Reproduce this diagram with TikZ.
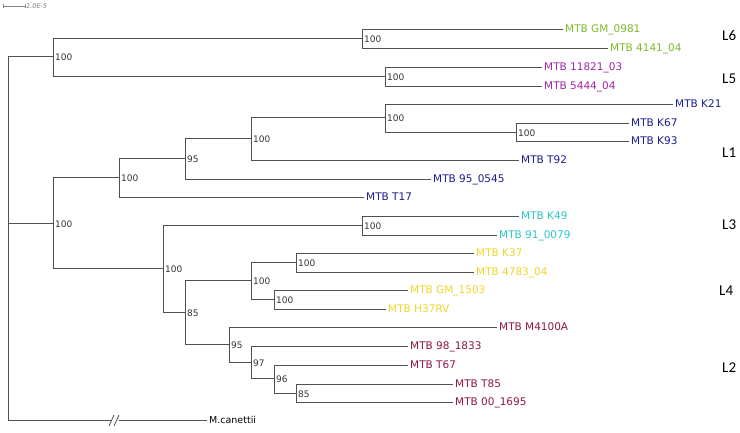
\documentclass[tikz,border=0pt]{standalone}
\usepackage{fontspec}
\setmainfont{DejaVu Sans}
\newfontfamily\linfont{Carlito}
\usepackage{xcolor}
\usepackage{tikz}
\usetikzlibrary{positioning, calc}

\definecolor{treegray}{HTML}{505050}
\definecolor{linsix}{HTML}{7CBB2B}
\definecolor{linfive}{HTML}{A524A8}
\definecolor{linone}{HTML}{1C1C8E}
\definecolor{linthree}{HTML}{2EC4C4}
\definecolor{linfour}{HTML}{F0D52C}
\definecolor{lintwo}{HTML}{8E1546}

\begin{document}
\begin{tikzpicture}[
    x=1pt, y=-1pt,
    branch/.style={draw=treegray, line width=1pt},
    leaf/.style={anchor=west, inner sep=2pt, font=\fontsize{10.5}{12}\selectfont, text height=1.5ex, text depth=0.3ex},
    boot/.style={anchor=west, inner sep=1pt, font=\fontsize{9}{10}\selectfont, text=black!80},
    lineage/.style={anchor=west, inner sep=0pt, font=\linfont\fontsize{15}{16}\selectfont}
]
    \useasboundingbox (0,0) rectangle (740,432);

    % Scale bar
    \coordinate (sbl) at (3,6);
    \coordinate (sbr) at (25,6);
    \draw[treegray!70, line width=0.7pt] (sbl) -- (sbr);
    \draw[treegray!70, line width=0.7pt] ($(sbl)+(0,-2)$) -- ($(sbl)+(0,2)$) ($(sbr)+(0,-2)$) -- ($(sbr)+(0,2)$);
    \node[anchor=west, inner sep=1pt, font=\itshape\fontsize{6.5}{7}\selectfont, text=gray] (sblabel) at (sbr) {1.0E-5};

    % Internal nodes
    \coordinate (root) at (8, 223);
    \coordinate (nup)  at (53, 56);
    \coordinate (nL6)  at (362, 38);
    \coordinate (nL5)  at (385, 76);
    \coordinate (nA)   at (53, 223);
    \coordinate (nL1)  at (119, 177);
    \coordinate (nC)   at (185, 158);
    \coordinate (nD)   at (251, 138);
    \coordinate (nK)   at (385, 117);
    \coordinate (nKK)  at (516, 132);
    \coordinate (nB)   at (163, 268);
    \coordinate (nL3)  at (362, 225);
    \coordinate (nE)   at (185, 312);
    \coordinate (nL4)  at (251, 280);
    \coordinate (nF)   at (296, 262);
    \coordinate (nG)   at (274, 299);
    \coordinate (nL2)  at (229, 344);
    \coordinate (nH)   at (251, 362);
    \coordinate (nI)   at (274, 378);
    \coordinate (nJ)   at (296, 393);

    % Leaves
    \node[leaf, text=linsix]   (gm0981)  at (563, 29)  {MTB GM\_0981};
    \node[leaf, text=linsix]   (m4141)   at (608, 48)  {MTB 4141\_04};
    \node[leaf, text=linfive]  (m11821)  at (542, 67)  {MTB 11821\_03};
    \node[leaf, text=linfive]  (m5444)   at (542, 86)  {MTB 5444\_04};
    \node[leaf, text=linone]   (k21)     at (673, 104) {MTB K21};
    \node[leaf, text=linone]   (k67)     at (629, 123) {MTB K67};
    \node[leaf, text=linone]   (k93)     at (629, 141) {MTB K93};
    \node[leaf, text=linone]   (t92)     at (519, 160) {MTB T92};
    \node[leaf, text=linone]   (m950545) at (431, 179) {MTB 95\_0545};
    \node[leaf, text=linone]   (t17)     at (364, 197) {MTB T17};
    \node[leaf, text=linthree] (k49)     at (519, 216) {MTB K49};
    \node[leaf, text=linthree] (m910079) at (497, 235) {MTB 91\_0079};
    \node[leaf, text=linfour]  (k37)     at (474, 253) {MTB K37};
    \node[leaf, text=linfour]  (m4783)   at (474, 272) {MTB 4783\_04};
    \node[leaf, text=linfour]  (gm1503)  at (408, 290) {MTB GM\_1503};
    \node[leaf, text=linfour]  (h37rv)   at (386, 309) {MTB H37RV};
    \node[leaf, text=lintwo]   (m4100a)  at (497, 327) {MTB M4100A};
    \node[leaf, text=lintwo]   (m981833) at (408, 346) {MTB 98\_1833};
    \node[leaf, text=lintwo]   (t67)     at (408, 365) {MTB T67};
    \node[leaf, text=lintwo]   (t85)     at (453, 384) {MTB T85};
    \node[leaf, text=lintwo]   (m001695) at (453, 402) {MTB 00\_1695};
    \node[leaf, font=\fontsize{9.5}{11}\selectfont] (canettii) at (207, 420) {M.canettii};

    % Branches
    \draw[branch] (root) |- (nup);
    \draw[branch] (root) |- (nA);
    \draw[branch] (nup) |- (nL6);
    \draw[branch] (nup) |- (nL5);
    \draw[branch] (nL6) |- (gm0981.west);
    \draw[branch] (nL6) |- (m4141.west);
    \draw[branch] (nL5) |- (m11821.west);
    \draw[branch] (nL5) |- (m5444.west);
    \draw[branch] (nA) |- (nL1);
    \draw[branch] (nA) |- (nB);
    \draw[branch] (nL1) |- (nC);
    \draw[branch] (nL1) |- (t17.west);
    \draw[branch] (nC) |- (nD);
    \draw[branch] (nC) |- (m950545.west);
    \draw[branch] (nD) |- (nK);
    \draw[branch] (nD) |- (t92.west);
    \draw[branch] (nK) |- (k21.west);
    \draw[branch] (nK) |- (nKK);
    \draw[branch] (nKK) |- (k67.west);
    \draw[branch] (nKK) |- (k93.west);
    \draw[branch] (nB) |- (nL3);
    \draw[branch] (nB) |- (nE);
    \draw[branch] (nL3) |- (k49.west);
    \draw[branch] (nL3) |- (m910079.west);
    \draw[branch] (nE) |- (nL4);
    \draw[branch] (nE) |- (nL2);
    \draw[branch] (nL4) |- (nF);
    \draw[branch] (nL4) |- (nG);
    \draw[branch] (nF) |- (k37.west);
    \draw[branch] (nF) |- (m4783.west);
    \draw[branch] (nG) |- (gm1503.west);
    \draw[branch] (nG) |- (h37rv.west);
    \draw[branch] (nL2) |- (m4100a.west);
    \draw[branch] (nL2) |- (nH);
    \draw[branch] (nH) |- (m981833.west);
    \draw[branch] (nH) |- (nI);
    \draw[branch] (nI) |- (t67.west);
    \draw[branch] (nI) |- (nJ);
    \draw[branch] (nJ) |- (t85.west);
    \draw[branch] (nJ) |- (m001695.west);

    % Outgroup with broken branch
    \coordinate (brk1) at (112, 420);
    \coordinate (brk2) at (119, 420);
    \draw[branch] (root) |- (brk1);
    \draw[branch] (brk2) -- (canettii.west);
    \draw[treegray, line width=0.8pt] (109,426) -- (114,415) (114,426) -- (119,415);

    % Bootstrap values
    \node[boot] (bup)  at (54, 57.5)   {100};
    \node[boot] (bL6)  at (363, 39.5)  {100};
    \node[boot] (bL5)  at (386, 77.5)  {100};
    \node[boot] (bA)   at (54, 224.5)  {100};
    \node[boot] (bL1)  at (120, 178.5) {100};
    \node[boot] (bC)   at (186, 159.5) {95};
    \node[boot] (bD)   at (252, 139.5) {100};
    \node[boot] (bK)   at (386, 118.5) {100};
    \node[boot] (bKK)  at (517, 133)   {100};
    \node[boot] (bB)   at (164, 269.5) {100};
    \node[boot] (bL3)  at (363, 226)   {100};
    \node[boot] (bE)   at (186, 313.5) {85};
    \node[boot] (bL4)  at (252, 281.5) {100};
    \node[boot] (bF)   at (297, 263)   {100};
    \node[boot] (bG)   at (275, 300)   {100};
    \node[boot] (bL2)  at (230, 345.5) {95};
    \node[boot] (bH)   at (252, 363)   {97};
    \node[boot] (bI)   at (275, 379.5) {96};
    \node[boot] (bJ)   at (297, 394)   {85};

    % Lineage labels
    \node[lineage] (labL6) at (722, 35)  {L6};
    \node[lineage] (labL5) at (722, 79)  {L5};
    \node[lineage] (labL1) at (722, 153) {L1};
    \node[lineage] (labL3) at (722, 225) {L3};
    \node[lineage] (labL4) at (719, 291) {L4};
    \node[lineage] (labL2) at (722, 368) {L2};
\end{tikzpicture}
\end{document}
